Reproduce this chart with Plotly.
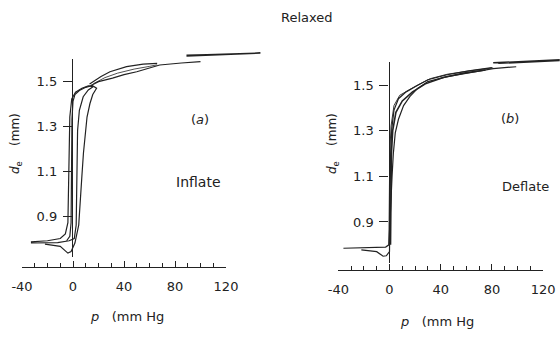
import plotly.graph_objects as go

W, H = 560, 337

# ---------------- data ----------------
# (a) Inflate: pressure p (mm Hg) vs external diameter d_e (mm)
a_loop1_p = [-33, -12, -3, 1, 2.5, 3, 3.2, 3.6, 5, 8, 12, 16,
             12, 7, 2, -1, -2.5, -3, -3.2, -4, -6, -10, -20, -33]
a_loop1_d = [0.78, 0.782, 0.79, 0.80, 0.86, 1.0, 1.15, 1.28, 1.37, 1.43, 1.46, 1.475,
             1.478, 1.468, 1.45, 1.42, 1.34, 1.2, 1.0, 0.87, 0.82, 0.80, 0.79, 0.785]

a_loop2_p = [-22, -10, -6, -4, -1.5, 1.5, 4.5, 6, 7, 8.2, 9.4, 11, 13.3, 15.5, 18.5,
             15, 10, 5, 1.5, 0, -0.8, -1.2, -1.3, -1.5, -2.5, -5]
a_loop2_d = [0.775, 0.765, 0.745, 0.735, 0.742, 0.78, 0.86, 0.97, 1.08, 1.18, 1.26, 1.34, 1.40, 1.44, 1.468,
             1.48, 1.472, 1.458, 1.44, 1.41, 1.33, 1.2, 1.0, 0.87, 0.81, 0.79]

a_upper_inf_p = [14, 20, 31, 40, 50, 60, 68, 85, 100]
a_upper_inf_d = [1.48, 1.497, 1.513, 1.528, 1.541, 1.558, 1.571, 1.58, 1.586]

a_upper_def_p = [66, 55, 42, 35, 29, 22, 17, 13]
a_upper_def_d = [1.578, 1.575, 1.564, 1.553, 1.541, 1.52, 1.50, 1.487]

a_mid_p = [16, 25, 35, 48, 60, 66]
a_mid_d = [1.488, 1.515, 1.535, 1.553, 1.565, 1.572]

a_top_p = [89, 110, 130, 147, 125, 105, 89]
a_top_d = [1.611, 1.616, 1.621, 1.624, 1.622, 1.617, 1.614]

# (b) Deflate
b_outer_p = [-36, -12, -3, -0.5, 0.6, 1.2, 2, 3, 4.5, 7, 11, 16, 22, 30, 45, 63, 81, 99]
b_outer_d = [0.785, 0.787, 0.79, 0.80, 0.9, 1.0, 1.1, 1.2, 1.29, 1.35, 1.41, 1.45,
             1.485, 1.515, 1.537, 1.555, 1.572, 1.58]

b_inner_p = [-0.5, -0.2, 0.2, 1.2, 3.5, 8, 14, 22, 32, 45, 60, 81]
b_inner_d = [0.80, 1.0, 1.2, 1.32, 1.41, 1.455, 1.475, 1.50, 1.528, 1.547, 1.56, 1.575]

b_dip_p = [-22, -10, -5, -2.5, 0, 0.3, 0.5, 0.9, 1.8, 3.5, 7, 13, 20, 30, 45, 62, 80]
b_dip_d = [0.778, 0.77, 0.75, 0.752, 0.77, 0.9, 1.05, 1.2, 1.31, 1.39, 1.44, 1.47,
           1.492, 1.523, 1.545, 1.562, 1.576]

b_mid_p = [0.8, 1.0, 1.5, 2.5, 5, 10, 18, 28, 42, 58, 75]
b_mid_d = [0.80, 1.0, 1.2, 1.3, 1.38, 1.43, 1.47, 1.505, 1.533, 1.552, 1.566]

b_top_p = [81, 100, 120, 133, 133, 100, 85]
b_top_d = [1.597, 1.602, 1.606, 1.61, 1.607, 1.599, 1.595]

x_major = [-40, 0, 40, 80, 120]
x_minor = list(range(-40, 121, 10))
y_major = [0.9, 1.1, 1.3, 1.5]

INK = "#222222"
FONT = "DejaVu Sans"

fig = go.Figure()


def line(xs, ys, xa, ya, width=1.2):
    fig.add_trace(go.Scatter(x=xs, y=ys, mode="lines", xaxis=xa, yaxis=ya,
                             line=dict(color=INK, width=width),
                             hoverinfo="skip", showlegend=False))


def carrier(xa, ya):
    # transparent trace that makes an axis pair exist without drawing anything
    fig.add_trace(go.Scatter(x=[0], y=[1.0], mode="markers", xaxis=xa, yaxis=ya,
                             marker=dict(size=1, opacity=0), hoverinfo="skip",
                             showlegend=False))


# panel (a): data on x/y
line(a_loop1_p, a_loop1_d, "x", "y")
line(a_loop2_p, a_loop2_d, "x", "y")
line(a_upper_inf_p, a_upper_inf_d, "x", "y")
line(a_upper_def_p, a_upper_def_d, "x", "y")
line(a_mid_p, a_mid_d, "x", "y", 0.8)
line(a_top_p, a_top_d, "x", "y", 1.5)

# panel (b): data on x2/y2
line(b_outer_p, b_outer_d, "x2", "y2")
line(b_inner_p, b_inner_d, "x2", "y2", 0.9)
line(b_dip_p, b_dip_d, "x2", "y2")
line(b_mid_p, b_mid_d, "x2", "y2", 1.6)
line(b_top_p, b_top_d, "x2", "y2", 1.5)

# visible scales: d_e scale (y5/y6) placed at p = 0 through x5/x6,
# detached pressure scales (x3/x4) resting on y3/y4
carrier("x5", "y5")
carrier("x6", "y6")
carrier("x3", "y3")
carrier("x4", "y4")


def px(v):
    return v / W


def py(v):
    return 1 - v / H


# pixel geometry of each panel: x pixel of p=0, px per mm Hg, y pixel of d=1.5, px per mm
panels = {
    "a": dict(x0=73.0, sx=1.275, y15=81.0, sy=225.0, axis_y=267.0, prange=(-45, 150)),
    "b": dict(x0=389.5, sx=1.28, y15=85.0, sy=228.3, axis_y=270.0, prange=(-45, 133)),
}
DATA_D = (0.70, 1.66)    # span available to the curves
SCALE_D = (0.72, 1.60)   # span covered by the drawn d_e axis

tickfont = dict(family=FONT, size=13, color=INK)
names = {
    "a": dict(xa="xaxis", ya="yaxis", xh="xaxis5", ys="yaxis5", xd="xaxis3", yd="yaxis3",
              yn="y", xhn="x5", xdn="x3", ydn="y3"),
    "b": dict(xa="xaxis2", ya="yaxis2", xh="xaxis6", ys="yaxis6", xd="xaxis4", yd="yaxis4",
              yn="y2", xhn="x6", xdn="x4", ydn="y4"),
}

for key, n in names.items():
    g = panels[key]
    p_lo, p_hi = g["prange"]

    def ydomain(lo, hi):
        return [py(g["y15"] + (1.5 - lo) * g["sy"]), py(g["y15"] - (hi - 1.5) * g["sy"])]

    data_dom = [px(g["x0"] + p_lo * g["sx"]), min(1.0, px(g["x0"] + p_hi * g["sx"]))]
    zero_dom = [px(g["x0"]), data_dom[1]]
    disp_dom = [px(g["x0"] - 40 * g["sx"]), px(g["x0"] + 120 * g["sx"])]
    base = py(g["axis_y"])

    hidden = dict(visible=False, fixedrange=True, automargin=False)
    fig.layout[n["xa"]] = dict(domain=data_dom, range=[p_lo, p_hi], anchor=n["yn"], **hidden)
    fig.layout[n["ya"]] = dict(domain=ydomain(*DATA_D), range=list(DATA_D), anchor=n["xa"][0] + n["xa"][5:], **hidden)
    fig.layout[n["xh"]] = dict(domain=zero_dom, range=[0, 1], anchor=n["ys"][0] + n["ys"][5:], **hidden)
    fig.layout[n["ys"]] = dict(domain=ydomain(*SCALE_D), range=list(SCALE_D), anchor=n["xhn"],
                               side="left", showline=True, linecolor=INK, linewidth=1.3,
                               ticks="outside", ticklen=9, tickwidth=1.2, tickcolor=INK,
                               tickvals=y_major, ticktext=[f"{v:.1f}" for v in y_major],
                               tickfont=tickfont, ticklabelstandoff=3, automargin=False,
                               showgrid=False, zeroline=False, fixedrange=True)
    fig.layout[n["xd"]] = dict(domain=disp_dom, range=[-40, 120], anchor=n["ydn"], side="bottom",
                               showline=True, linecolor=INK, linewidth=1.3,
                               ticks="inside", ticklen=6, tickwidth=1.2, tickcolor=INK,
                               tickvals=x_major, ticktext=[str(v) for v in x_major],
                               minor=dict(tickmode="array", tickvals=x_minor, ticks="inside",
                                          ticklen=4, tickcolor=INK, tickwidth=1),
                               tickfont=tickfont, ticklabelstandoff=7, automargin=False,
                               showgrid=False, zeroline=False, fixedrange=True)
    fig.layout[n["yd"]] = dict(domain=[base, base + 0.05], range=[0, 1], anchor=n["xdn"], **hidden)

txt = dict(family=FONT, size=13, color=INK)
ann = [
    dict(x=px(307), y=py(18), text="Relaxed"),
    dict(x=px(200), y=py(119), text="(<i>a</i>)"),
    dict(x=px(198), y=py(182), text="Inflate", font=dict(family=FONT, size=14, color=INK)),
    dict(x=px(510), y=py(118), text="(<i>b</i>)"),
    dict(x=px(525), y=py(187), text="Deflate"),
    dict(x=px(127), y=py(316), text="<i>p</i>   (mm Hg"),
    dict(x=px(437), y=py(321), text="<i>p</i>   (mm Hg"),
    dict(x=px(16), y=py(144), text="<i>d</i><sub>e</sub>    (mm)", textangle=-90,
         font=dict(family=FONT, size=12, color=INK)),
    dict(x=px(333), y=py(144), text="<i>d</i><sub>e</sub>    (mm)", textangle=-90,
         font=dict(family=FONT, size=12, color=INK)),
]
for a in ann:
    a.setdefault("font", txt)
    a.update(xref="paper", yref="paper", showarrow=False, xanchor="center", yanchor="middle")

fig.update_layout(width=W, height=H, margin=dict(l=0, r=0, t=0, b=0),
                  paper_bgcolor="white", plot_bgcolor="rgba(0,0,0,0)",
                  annotations=ann, showlegend=False)

fig.write_html("out.html", config={"displayModeBar": False})
